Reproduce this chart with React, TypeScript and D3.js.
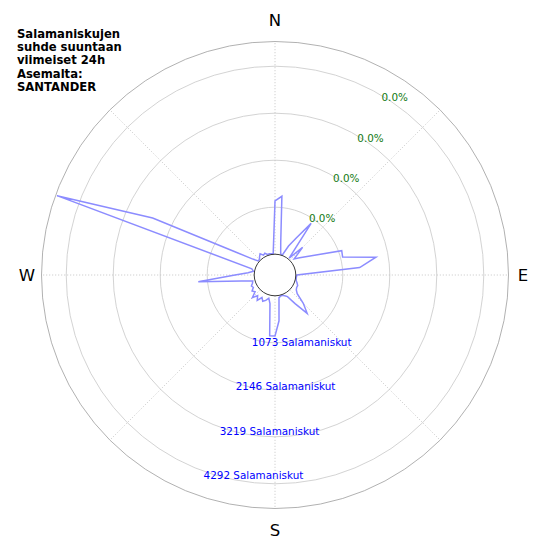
import * as d3 from "d3";

// lightning strikes per direction (5 degree bins, compass degrees)
const directions = d3.range(0, 360, 5);
const strikes = [
  1215, 1329, 279, 27, 5, 256, 507, 963, 27, 416, 96, 210,
  370, 632, 1146, 1123, 1865, 1466, 27, 16, 16, 27, 62, 96,
  96, 119, 187, 438, 667, 324, 96, 50, 16, 27, 50, 575,
  918, 918, 187, 73, 142, 187, 119, 233, 142, 256, 119, 164,
  96, 119, 73, 50, 301, 1283, 438, 142, 27, 73, 4822, 2607,
  598, 176, 27, 27, 73, 119, 50, 73, 27, 27, 16, 5,
];
const ringTicks = [1073, 2146, 3219, 4292];
const percentLabels = ["0.0%", "0.0%", "0.0%", "0.0%"];
const compass = [
  { label: "N", angle: 0 },
  { label: "E", angle: 90 },
  { label: "S", angle: 180 },
  { label: "W", angle: 270 },
];
const titleLines = ["Salamaniskujen", "suhde suuntaan", "viimeiset 24h", "Asemalta:", "SANTANDER"];
const rMax = 4856;

const width = 550;
const height = 550;
const cx = 275;
const cy = 275;
const innerR = 20.8;
const outerR = 233.5;

const rad = (deg: number) => (deg * Math.PI) / 180;

export default function App() {
  const r = d3.scaleLinear().domain([0, rMax]).range([innerR, outerR]);

  const line = d3
    .lineRadial<number>()
    .angle((_, i) => rad(directions[i]))
    .radius((d) => r(d))
    .curve(d3.curveLinearClosed);

  const pt = (deg: number, radius: number) => [
    radius * Math.sin(rad(deg)),
    -radius * Math.cos(rad(deg)),
  ];

  return (
    <svg
      width={width}
      height={height}
      style={{ position: "absolute", left: 0, top: 0, background: "#fff", fontFamily: "'DejaVu Sans'" }}
    >
      <g transform={`translate(${cx},${cy})`}>
        {/* rings */}
        {ringTicks.map((t) => (
          <circle key={t} r={r(t)} fill="none" stroke="#c8c8c8" strokeWidth={0.8} />
        ))}
        <circle r={outerR} fill="none" stroke="#a8a8a8" strokeWidth={0.9} />
        {/* spokes */}
        {d3.range(0, 360, 45).map((a) => {
          const [x1, y1] = pt(a, innerR);
          const [x2, y2] = pt(a, outerR);
          return (
            <line
              key={a}
              x1={x1}
              y1={y1}
              x2={x2}
              y2={y2}
              stroke="#b8b8b8"
              strokeWidth={0.8}
              strokeDasharray="1,2"
            />
          );
        })}

        <path d={line(strikes)!} fill="none" stroke="#8c8cff" strokeWidth={1.5} />

        <circle r={innerR} fill="#fff" stroke="#222" strokeWidth={0.9} />

        {/* percentage labels */}
        {ringTicks.map((t, i) => {
          const [x, y] = pt(31, r(t) - 2);
          return (
            <text key={"p" + t} x={x} y={y} dy="0.35em" fontSize={10.4} fill="#137a13">
              {percentLabels[i]}
            </text>
          );
        })}

        {/* count labels */}
        {ringTicks.map((t) => {
          const [x, y] = pt(200, r(t));
          return (
            <text key={"c" + t} x={x} y={y + 7.5} fontSize={10.4} fill="#0000ff">
              {`${t} Salamaniskut`}
            </text>
          );
        })}

        {compass.map((c) => {
          const dist = c.angle % 180 === 0 ? 255 : 248;
          const [x, y] = pt(c.angle, dist);
          return (
            <text
              key={c.label}
              x={x}
              y={y}
              dy="0.36em"
              textAnchor="middle"
              fontSize={16.5}
              fill="#000"
            >
              {c.label}
            </text>
          );
        })}
      </g>

      <text x={17} y={37.7} fontSize={11.6} fontWeight={700} fill="#000">
        {titleLines.map((l, i) => (
          <tspan key={l} x={17} dy={i === 0 ? 0 : 13.3}>
            {l}
          </tspan>
        ))}
      </text>
    </svg>
  );
}
